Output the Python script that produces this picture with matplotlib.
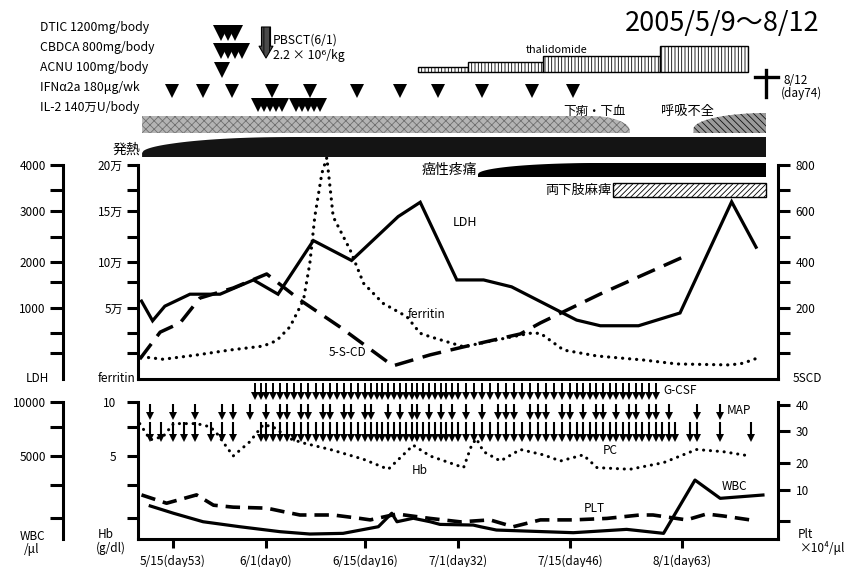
import numpy as np
import matplotlib
matplotlib.use('Agg')
import matplotlib.pyplot as plt
from matplotlib.patches import Rectangle

plt.rcParams['font.family'] = ['Noto Sans CJK JP', 'DejaVu Sans']
plt.rcParams['axes.unicode_minus'] = False
plt.rcParams['hatch.linewidth'] = 0.6

W, H = 858, 567

# ---------------- data (x = days after 2005/5/9) ----------------
tick_days = [6, 23, 37, 53, 67, 84]
tick_labels = ['5/15(day53)', '6/1(day0)', '6/15(day16)', '7/1(day32)', '7/15(day46)', '8/1(day63)']
death_day = 95

regimen_labels = ['DTIC 1200mg/body', 'CBDCA 800mg/body', 'ACNU 100mg/body',
                  'IFNα2a 180μg/wk', 'IL-2 140万U/body']
dtic_days = [14.7, 16.0, 17.3]
cbdca_days = [14.7, 16.0, 17.3, 18.6]
acnu_days = [15.0]
ifn_days = [5.8, 11.5, 16.8, 23.8, 29.2, 35.9, 43.0, 49.6, 56.0, 62.3, 67.5]
il2_days = [21.5, 22.6, 23.6, 24.4, 25.3, 27.2, 28.1, 28.9, 29.8, 30.6]
pbsct_day = 23

thal_start = [46.1, 54.3, 63.6, 80.7]
thal_end = [54.3, 63.6, 80.7, 92.6]
thal_dose = [100, 200, 300, 500]

sym_names = ['下痢・下血', '発熱', '呼吸不全', '癌性疼痛', '両下肢麻痺']
sym_start = [0.7, 0.7, 85.5, 55.5, 73.5]
sym_end = [76.1, 95, 95, 95, 95]

ldh_day = [0.6, 2.5, 4.6, 9.1, 14.6, 20.7, 24.7, 29.7, 35.1, 42.7, 46.5, 52.8,
           56.2, 59.7, 68.0, 71.6, 77.4, 83.7, 90.5, 93.7]
ldh_val = [1150, 820, 1040, 1300, 1300, 1610, 1300, 2420, 2030, 2890, 3190, 1610,
           1610, 1460, 830, 750, 750, 930, 3200, 2290]

ferr_day = [0.6, 4.3, 10.3, 16.4, 22.5, 24.5, 26.4, 28.3, 29.2, 29.9, 30.9, 31.6,
            32.0, 32.5, 34.9, 36.8, 40.1, 44.2, 46.5, 48.2, 53.7, 57.8, 62.0, 63.3,
            66.2, 71.1, 78.1, 83.2, 90.3, 92.0, 93.8]
ferr_val = [15700, 13900, 16900, 20400, 23200, 27000, 36800, 58700, 98600, 144400,
            191000, 208000, 180000, 144400, 111800, 76800, 55100, 43900, 32200, 29800,
            22700, 27500, 32200, 32200, 20400, 16200, 13400, 10600, 9900, 11100, 14600]

scd_day = [0.3, 3.8, 7.3, 10.9, 17.0, 23.1, 27.8, 33.5, 41.8, 48.2, 53.6, 60.8,
           63.3, 71.6, 84.7]
scd_val = [56, 132, 158, 243, 287, 348, 235, 146, 37, 68, 90, 127, 158, 261, 427]

wbc_day = [2.1, 6.1, 11.5, 18.2, 25.0, 29.2, 33.9, 39.3, 41.6, 42.5, 45.3, 48.2,
           49.9, 54.9, 55.8, 57.8, 67.5, 75.6, 81.2, 85.7, 89.0, 94.6]
wbc_val = [1990, 1550, 1040, 740, 440, 300, 340, 740, 1550, 1040, 1250, 1040,
           880, 840, 740, 540, 380, 580, 340, 3550, 2450, 2650]

hb_day = [0.3, 2.1, 4.3, 6.1, 10.3, 12.8, 14.0, 17.0, 20.0, 22.5, 24.0, 26.4,
          28.3, 32.1, 36.8, 41.0, 45.3, 48.2, 53.7, 54.7, 55.3, 56.2, 58.3, 60.8,
          63.7, 65.8, 69.0, 71.1, 76.1, 81.2, 85.9, 89.4, 92.9]
hb_val = [8.0, 6.5, 6.8, 8.0, 8.0, 7.7, 7.1, 5.0, 6.3, 7.9, 7.7, 6.6,
          6.2, 5.6, 4.8, 4.2, 6.0, 5.0, 4.3, 6.0, 6.6, 5.4, 4.7, 5.6,
          5.1, 4.7, 5.1, 4.3, 4.2, 4.6, 5.6, 5.4, 5.0]

plt_day = [0.6, 4.9, 10.3, 13.4, 17.0, 23.1, 25.4, 27.8, 32.5, 36.3, 37.9, 42.5,
           48.2, 53.3, 57.0, 59.9, 63.3, 67.5, 72.6, 77.6, 79.6, 84.6, 87.2, 89.4, 93.8]
plt_val = [9.0, 7.3, 9.0, 6.9, 6.5, 6.3, 5.6, 4.9, 4.9, 4.2, 3.9, 5.1,
           4.2, 3.5, 3.9, 2.5, 3.9, 3.9, 4.2, 4.9, 4.9, 3.9, 5.1, 4.7, 3.7]

gcsf_days = [21, 22, 23, 24, 25, 26, 27, 28, 29, 30, 31, 32, 33, 34, 35, 36, 37, 38,
             39, 40, 41, 42, 43, 44, 45, 46, 47, 48, 49, 50, 51, 52, 53, 54, 55, 56,
             57, 58, 59, 60, 61, 62, 63, 64, 65, 66, 67, 68, 69, 70, 71, 72, 73, 74,
             75, 76, 77, 78, 79, 80]
map_days = [2, 6, 10, 15, 17, 20, 23, 25, 26, 28, 29, 31, 32, 34, 35, 37, 38, 41, 43,
            45, 46, 48, 50, 52, 54, 56, 58, 59, 60, 62, 63, 64, 66, 67, 69, 71, 72,
            74, 76, 77, 79, 80, 82, 86, 89]
pc_days = [2, 4, 6, 8, 10, 13, 15, 17, 22, 23, 24, 25, 26, 27, 28, 29, 30, 31, 32,
           33, 34, 35, 36, 37, 38, 39, 40, 41, 42, 43, 44, 45, 46, 47, 48, 49, 50,
           51, 52, 53, 54, 55, 56, 57, 58, 59, 60, 61, 62, 63, 64, 65, 66, 67, 68,
           69, 70, 71, 72, 73, 74, 75, 76, 77, 78, 79, 80, 81, 82, 83, 85, 86, 89, 93]

ldh_ticks = [1000, 2000, 3000, 4000]
ferr_ticks = [50000, 100000, 150000, 200000]
ferr_tick_labels = ['5万', '10万', '15万', '20万']
scd_ticks = [200, 400, 600, 800]
wbc_ticks = [5000, 10000]
hb_ticks = [5, 10]
plt_ticks = [10, 20, 30, 40]

# ---------------- layout helpers ----------------
def pw(xs, ys):
    xs = np.asarray(xs, float)
    ys = np.asarray(ys, float)
    s0 = (ys[1] - ys[0]) / (xs[1] - xs[0])
    s1 = (ys[-1] - ys[-2]) / (xs[-1] - xs[-2])
    def f(v):
        v = np.asarray(v, float)
        out = np.interp(v, xs, ys)
        out = np.where(v < xs[0], ys[0] + (v - xs[0]) * s0, out)
        out = np.where(v > xs[-1], ys[-1] + (v - xs[-1]) * s1, out)
        return out
    return f

# hand-drawn (non-uniform) axes of the original, calibrated in pixels
x_anchor_day = [0, 6, 23, 37, 53, 67, 84, 95]
x_anchor_px = [138, 173, 266, 365, 458, 570, 682, 766]
fx, ix = pw(x_anchor_day, x_anchor_px), pw(x_anchor_px, x_anchor_day)
X_LO, X_HI = 0.0, float(ix(778))

def yscale(vals, pxs):
    p = -np.asarray(pxs, float)
    return pw(vals, p), pw(p, vals)

up_px = [379, 308, 262, 211, 165]
low_px = [539, 456, 402]
plt_px = [539, 490, 463, 431, 405]

fig = plt.figure(figsize=(W / 100, H / 100), dpi=100)

def rect(l, t, r, b):
    return [l / W, 1 - b / H, (r - l) / W, (b - t) / H]

def ptext(x, y, s, size=8.5, ha='left', va='center', **kw):
    fig.text(x / W, 1 - y / H, s, fontsize=size, ha=ha, va=va, **kw)

def make_ax(box, vals, pxs, ylim):
    ax = fig.add_axes(rect(*box))
    ax.set_xscale('function', functions=(fx, ix))
    ax.set_xlim(X_LO, X_HI)
    f, i = yscale(vals, pxs)
    ax.set_yscale('function', functions=(f, i))
    ax.set_ylim(*ylim)
    ax.patch.set_visible(False)
    for s in ax.spines.values():
        s.set_visible(False)
        s.set_linewidth(2.2)
    ax.tick_params(axis='x', which='both', bottom=False, labelbottom=False)
    ax.tick_params(axis='y', which='both', left=False, right=False,
                   labelleft=False, labelright=False)
    return ax, i

SPW = 2.2
PX = 0.72  # points per pixel

# ---------------- upper panel ----------------
UB = (138, 165, 778, 379)
ax_f, inv_f = make_ax(UB, [0, 50000, 100000, 150000, 200000], up_px, (0, 200000))
ax_l, inv_l = make_ax(UB, [0, 1000, 2000, 3000, 4000], up_px, (0, 4000))
ax_c, inv_c = make_ax(UB, [0, 200, 400, 600, 800], up_px, (0, 800))

minor_up_px = np.array([190, 237, 282, 333, 353])

ax_f.spines['left'].set_visible(True)
ax_f.spines['bottom'].set_visible(True)
ax_f.set_yticks(ferr_ticks, ferr_tick_labels)
ax_f.set_yticks(inv_f(-minor_up_px), minor=True)
ax_f.tick_params(axis='y', which='both', left=True, labelleft=True, length=11 * PX,
                 width=SPW, labelsize=8.5, pad=3)

ax_l.spines['left'].set_visible(True)
ax_l.spines['left'].set_position(('outward', 75 * PX))
ax_l.set_yticks(ldh_ticks, [str(v) for v in ldh_ticks])
ax_l.set_yticks(inv_l(-minor_up_px), minor=True)
ax_l.tick_params(axis='y', which='both', left=True, labelleft=True, length=13 * PX,
                 width=SPW, labelsize=8.5, pad=3)

ax_c.spines['right'].set_visible(True)
ax_c.set_yticks(scd_ticks, [str(v) for v in scd_ticks])
ax_c.set_yticks(inv_c(-minor_up_px), minor=True)
ax_c.tick_params(axis='y', which='both', right=True, labelright=True, length=12 * PX,
                 width=SPW, labelsize=8.5, pad=4)

ax_l.plot(ldh_day, ldh_val, color='black', lw=2.3, solid_joinstyle='miter', clip_on=False)
ax_f.plot(ferr_day, ferr_val, color='black', lw=2.3, linestyle=(0, (0.05, 2.15)),
          dash_capstyle='round', clip_on=False)
ax_c.plot(scd_day, scd_val, color='black', lw=2.5, linestyle=(0, (5.5, 2.8)),
          dash_capstyle='butt', clip_on=False)

ptext(453, 222, 'LDH', 9)
ptext(426, 315, 'ferritin', 8.5, ha='center')
ptext(347, 352, '5-S-CD', 8.5, ha='center')
ptext(37, 379, 'LDH', 8.5, ha='center')
ptext(135, 379, 'ferritin', 8.5, ha='right')
ptext(807, 378, '5SCD', 8.5, ha='center')

# ---------------- lower panel ----------------
LB = (138, 402, 778, 539)
ax_h, inv_h = make_ax(LB, [0, 5, 10], low_px, (0, 10))
ax_w, inv_w = make_ax(LB, [0, 5000, 10000], low_px, (0, 10000))
_, inv_p0 = yscale([0, 10, 20, 30, 40], plt_px)
ax_p, inv_p = make_ax(LB, [0, 10, 20, 30, 40], plt_px, (0, float(inv_p0(-402))))

minor_low_px = np.array([427, 485, 518])

ax_h.spines['left'].set_visible(True)
ax_h.spines['bottom'].set_visible(True)
ax_h.set_yticks(hb_ticks, [str(v) for v in hb_ticks])
ax_h.set_yticks(inv_h(-minor_low_px), minor=True)
ax_h.tick_params(axis='y', which='both', left=True, labelleft=True, length=11 * PX,
                 width=SPW, labelsize=8.5, pad=8)
ax_h.set_xticks(tick_days, tick_labels)
ax_h.tick_params(axis='x', which='major', bottom=True, labelbottom=True,
                 length=9 * PX, width=SPW, labelsize=8.5, pad=5)

ax_w.spines['left'].set_visible(True)
ax_w.spines['left'].set_position(('outward', 75 * PX))
ax_w.set_yticks(wbc_ticks, [str(v) for v in wbc_ticks])
ax_w.set_yticks(inv_w(-minor_low_px), minor=True)
ax_w.tick_params(axis='y', which='both', left=True, labelleft=True, length=13 * PX,
                 width=SPW, labelsize=8.5, pad=3)

ax_p.spines['right'].set_visible(True)
ax_p.set_yticks(plt_ticks, [str(v) for v in plt_ticks])
ax_p.set_yticks(inv_p(-np.array([521])), minor=True)
ax_p.tick_params(axis='y', which='both', right=True, labelright=True, length=12 * PX,
                 width=SPW, labelsize=8.5, pad=4)

ax_h.plot(hb_day, hb_val, color='black', lw=2.2, linestyle=(0, (0.05, 2.2)),
          dash_capstyle='round', clip_on=False)
ax_w.plot(wbc_day, wbc_val, color='black', lw=2.3, clip_on=False)
ax_p.plot(plt_day, plt_val, color='black', lw=2.6, linestyle=(0, (4.0, 2.2)),
          dash_capstyle='butt', clip_on=False)

# transfusion / G-CSF arrows
trans_h = ax_h.get_xaxis_transform()
def yf(py):
    return (539 - py) / 137.0

def arrows(days, y0, y1, ms, lw):
    ax_h.vlines(days, yf(y0), yf(y1 - 2), transform=trans_h, colors='black',
                lw=lw, clip_on=False)
    ax_h.plot(days, [yf(y1 - ms / PX / 2)] * len(days), 'v', ms=ms, color='black',
              mew=0, transform=trans_h, clip_on=False, linestyle='none')

arrows(gcsf_days, 383, 400, 5.5, 1.4)
arrows(map_days, 404, 420, 6.0, 1.5)
arrows(pc_days, 422, 442, 6.0, 1.5)
ax_h.set_xlim(X_LO, X_HI)
ax_h.set_ylim(0, 10)

ptext(663, 391, 'G-CSF', 8.5)
ptext(727, 411, 'MAP', 8.5)
ptext(610, 450, 'PC', 8.5, ha='center')
ptext(420, 471, 'Hb', 8.5, ha='center')
ptext(594, 508, 'PLT', 8.5, ha='center')
ptext(734, 487, 'WBC', 8.5, ha='center')

ptext(32, 536, 'WBC', 8.5, ha='center')
ptext(32, 549, '/μl', 8.5, ha='center')
ptext(98, 534, 'Hb', 8.5)
ptext(96, 548, '(g/dl)', 8.5)
ptext(798, 534, 'Plt', 8.5)
ptext(800, 548, '×10⁴/μl', 8.5)

# ---------------- schedule (top) ----------------
ax_s = fig.add_axes(rect(138, 0, 778, 200))
ax_s.set_xscale('function', functions=(fx, ix))
ax_s.set_xlim(X_LO, X_HI)
ax_s.set_ylim(200, 0)
ax_s.axis('off')
ax_s.set_zorder(5)

ptext(625, 24, '2005/5/9～8/12', 19.5)

row_y = [28, 48, 68, 88, 107]
for y, lab in zip(row_y, regimen_labels):
    ptext(40, y, lab, 8.8)

ax_s.plot(dtic_days, [32.5] * len(dtic_days), 'v', ms=12, color='black', mew=0, clip_on=False)
ax_s.plot(cbdca_days, [50.5] * len(cbdca_days), 'v', ms=12, color='black', mew=0, clip_on=False)
ax_s.plot(acnu_days, [70] * len(acnu_days), 'v', ms=11, color='black', mew=0, clip_on=False)
ax_s.plot(ifn_days, [91] * len(ifn_days), 'v', ms=9.5, color='black', mew=0, clip_on=False)
ax_s.plot(il2_days, [104.5] * len(il2_days), 'v', ms=9.8, color='black', mew=0, clip_on=False)

ax_s.annotate('', xy=(pbsct_day, 58), xytext=(pbsct_day, 27),
              arrowprops=dict(arrowstyle='simple,head_width=1.0,head_length=0.85,tail_width=0.65',
                              mutation_scale=10, fc='#4a4a4a', ec='black', lw=0.8,
                              hatch='|||', shrinkA=0, shrinkB=0),
              annotation_clip=False)
ptext(273, 40, 'PBSCT(6/1)', 8.8)
ptext(273, 55, '2.2 × 10⁶/kg', 8.8)

for s0, s1, d in zip(thal_start, thal_end, thal_dose):
    ax_s.add_patch(Rectangle((s0, 72), s1 - s0, -d * 0.052, facecolor='white',
                             edgecolor='black', lw=1.0, hatch='|||||'))
ptext(557, 50, 'thalidomide', 7.8, ha='center')

# death
ax_s.plot([death_day, death_day], [70, 97], color='black', lw=2.4, clip_on=False)
ax_s.plot([death_day - 1.45, death_day + 1.55], [77, 77], color='black', lw=2.4, clip_on=False)
ptext(783, 80, '8/12', 8.5)
ptext(781, 93, '(day74)', 8.5)

def band(x0, x1, ytop, ybot, lt=0.0, rt=0.0, **kw):
    x = np.linspace(x0, x1, 400)
    h = np.ones_like(x)
    if lt > 0:
        t = np.clip((x - x0) / lt, 0, 1)
        h = h * (0.2 + 0.8 * np.sqrt(1 - (1 - t) ** 2))
    if rt > 0:
        t = np.clip((x1 - x) / rt, 0, 1)
        h = h * (0.12 + 0.88 * np.sqrt(1 - (1 - t) ** 2))
    ax_s.fill_between(x, ybot, ybot - (ybot - ytop) * h, clip_on=False, **kw)

# 下痢・下血
band(sym_start[0], sym_end[0], 116, 133, rt=6, facecolor='#b4b4b4',
     edgecolor='#707070', hatch='xxxx', lw=0)
# 発熱
band(sym_start[1], sym_end[1], 137, 157, lt=27, facecolor='#141414', lw=0)
# 呼吸不全
band(sym_start[2], sym_end[2], 113, 133, lt=sym_end[2] - sym_start[2],
     facecolor='#9a9a9a', edgecolor='#111111', hatch='\\\\\\\\\\', lw=0)
# 癌性疼痛
band(sym_start[3], sym_end[3], 163, 177, lt=15, facecolor='black', lw=0)
# 両下肢麻痺
ax_s.add_patch(Rectangle((sym_start[4], 197), sym_end[4] - sym_start[4], -14,
                         facecolor='white', edgecolor='black', lw=1.0, hatch='//////'))

ptext(594, 111, sym_names[0], 9, ha='center')
ptext(140, 150, sym_names[1], 10, ha='right')
ptext(687, 111, sym_names[2], 9.5, ha='center')
ptext(477, 170, sym_names[3], 10, ha='right')
ptext(612, 190, sym_names[4], 9.5, ha='right')

fig.savefig('out.png', dpi=100)
